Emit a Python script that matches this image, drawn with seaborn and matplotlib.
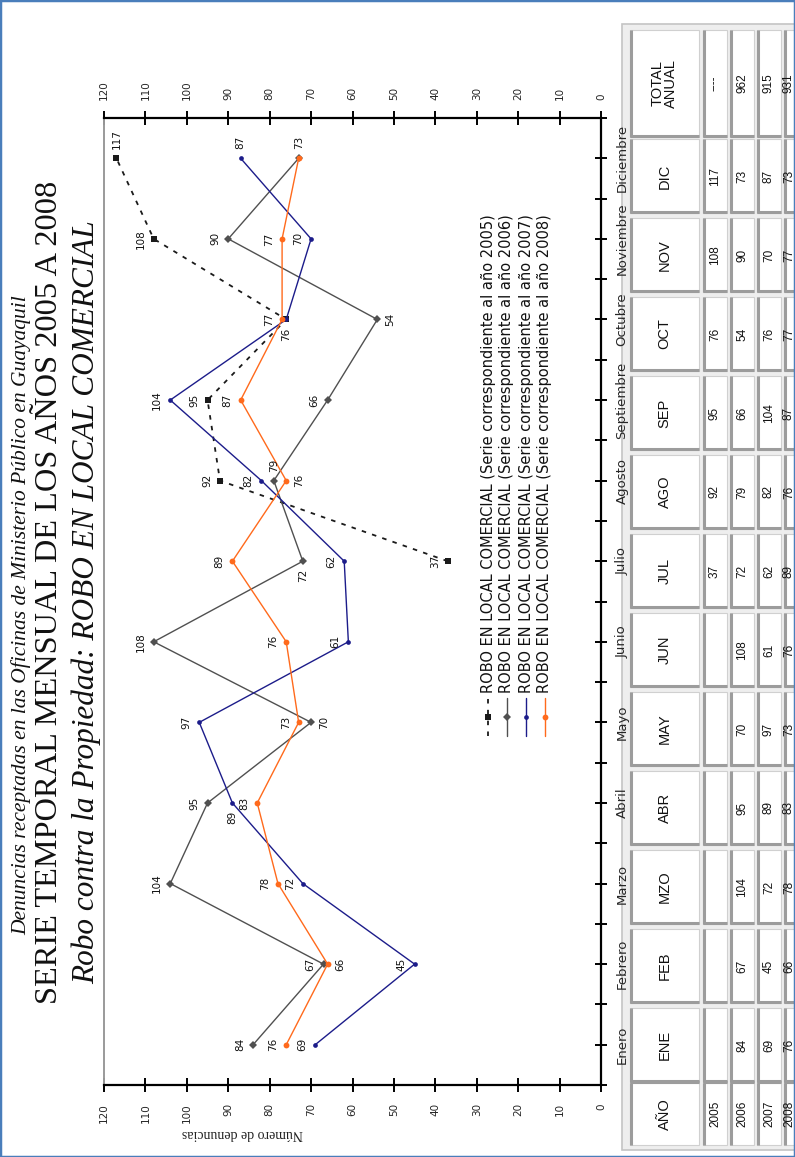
import numpy as np
import pandas as pd
import matplotlib
matplotlib.use("Agg")
import matplotlib.pyplot as plt
import seaborn as sns
from matplotlib.patches import Rectangle
from matplotlib.lines import Line2D

# ---------------- data ----------------
meses = ["Enero", "Febrero", "Marzo", "Abril", "Mayo", "Junio", "Julio",
         "Agosto", "Septiembre", "Octubre", "Noviembre", "Diciembre"]
meses_abrev = ["ENE", "FEB", "MZO", "ABR", "MAY", "JUN", "JUL", "AGO",
               "SEP", "OCT", "NOV", "DIC"]
anios = ["2005", "2006", "2007", "2008"]
serie_2005 = [np.nan] * 6 + [37, 92, 95, 76, 108, 117]
serie_2006 = [84, 67, 104, 95, 70, 108, 72, 79, 66, 54, 90, 73]
serie_2007 = [69, 45, 72, 89, 97, 61, 62, 82, 104, 76, 70, 87]
serie_2008 = [76, 66, 78, 83, 73, 76, 89, 76, 87, 77, 77, 73]
totales = ["----", "962", "915", "931"]
valor_ticks = list(range(0, 121, 10))

# where each value label sits relative to its point (L/R/U/D on the page)
pos_2005 = [None] * 6 + ["L", "L", "L", None, "L", "U"]
pos_2006 = ["L", "L", "L", "L", "R", "L", "D", "U", "L", "R", "L", None]
pos_2007 = ["L", "L", "L", "D", "L", "L", "L", "L", "L", "D", "L", "U"]
pos_2008 = ["L", "R", "L", "L", "L", "L", "L", "R", "L", "L", "L", "U"]

W, H = 795, 1157

sns.set_theme(style="white")
plt.rcParams["font.family"] = ["DejaVu Sans"]

fig = plt.figure(figsize=(W / 100, H / 100), dpi=100)
fig.patch.set_facecolor("white")


def fx(px):
    return px / W


def fy(py):
    return 1 - py / H


df = pd.DataFrame({"mes": np.arange(12), "2005": serie_2005, "2006": serie_2006,
                   "2007": serie_2007, "2008": serie_2008})

estilos = {
    "2005": dict(color="#1a1a1a", marker="s", markersize=5, lw=1.3, ls=(0, (2.5, 3.5))),
    "2006": dict(color="#505050", marker="D", markersize=3.6, lw=1.0, ls="-"),
    "2007": dict(color="#1c1c8a", marker="o", markersize=3.4, lw=1.0, ls="-"),
    "2008": dict(color="#ff6a1c", marker="o", markersize=4.2, lw=1.0, ls="-"),
}
posiciones = {"2005": pos_2005, "2006": pos_2006, "2007": pos_2007, "2008": pos_2008}

# ---------------- main chart (page turned on its side) ----------------
ax = fig.add_axes([fx(104), fy(1085), fx(601) - fx(104), fy(118) - fy(1085)])
ax.set_facecolor("white")

for anio in anios:
    st = estilos[anio]
    d = df[["mes", anio]].dropna()
    sns.lineplot(data=d, x=anio, y="mes", orient="y", ax=ax, color=st["color"],
                 linewidth=st["lw"], linestyle=st["ls"], marker=st["marker"],
                 markersize=st["markersize"], markeredgewidth=0, errorbar=None,
                 legend=False)

desp = {"L": ((-8, 0), "right", "center"), "R": ((8, 0), "left", "center"),
        "U": ((0, 9), "center", "bottom"), "D": ((0, -8), "center", "top")}
for anio in anios:
    for i, (v, p) in enumerate(zip(df[anio], posiciones[anio])):
        if p is None or np.isnan(v):
            continue
        off, ha, va = desp[p]
        ax.annotate(f"{int(v)}", (v, i), xytext=off, textcoords="offset pixels",
                    rotation=90, ha=ha, va=va, fontsize=7.5, color="#111111")

ax.set_xlim(120, 0)
ax.set_ylim(-0.5, 11.5)
ax.set_xlabel("")
ax.set_ylabel("")
ax.set_xticks(valor_ticks)
ax.set_xticklabels([str(t) for t in valor_ticks])
ax.tick_params(axis="x", which="both", top=True, bottom=True, labeltop=True,
               labelbottom=True, direction="inout", length=10, width=1.4,
               labelsize=7.5, labelrotation=90, pad=8, color="black")

ax.yaxis.tick_right()
ax.set_yticks(np.arange(12))
ax.set_yticklabels(meses)
ax.set_yticks(np.arange(-0.5, 12, 1), minor=True)
ax.tick_params(axis="y", which="both", right=True, left=False, direction="inout",
               length=9, width=1.4, color="black")
ax.tick_params(axis="y", which="major", labelsize=9.5, pad=6)
for t in ax.get_yticklabels():
    t.set_rotation(90)
    t.set_va("center")
    t.set_ha("left")

for s in ["top", "bottom", "right"]:
    ax.spines[s].set_color("black")
    ax.spines[s].set_linewidth(1.6)
ax.spines["left"].set_color("#9a9a9a")
ax.spines["left"].set_linewidth(1.4)
ax.grid(False)

# legend drawn along the page direction
ley_x = {"2005": 488, "2006": 507, "2007": 526, "2008": 545}
for anio in anios:
    st = estilos[anio]
    x = ley_x[anio]
    fig.add_artist(Line2D([fx(x), fx(x)], [fy(736), fy(698)], color=st["color"],
                          lw=st["lw"], ls=st["ls"]))
    fig.add_artist(Line2D([fx(x)], [fy(717)], color=st["color"], marker=st["marker"],
                          markersize=st["markersize"], markeredgewidth=0, ls="none"))
    fig.text(fx(x), fy(693),
             f"ROBO EN LOCAL COMERCIAL (Serie correspondiente al año {anio})",
             rotation=90, ha="center", va="bottom", fontsize=10.5, color="#111111")

# axis title of the value scale
fig.text(fx(242), fy(1133), "Número de denuncias", rotation=180, ha="center",
         va="center", fontsize=10, family="Liberation Serif", color="#222222")

# ---------------- titles ----------------
fig.text(fx(21), fy(615),
         "Denuncias receptadas en las Oficinas de Ministerio Público en Guayaquil",
         rotation=90, ha="center", va="center", fontsize=15.5, style="italic",
         family="Liberation Serif", color="#111111")
fig.text(fx(50), fy(592), "SERIE TEMPORAL MENSUAL DE LOS AÑOS 2005 A 2008",
         rotation=90, ha="center", va="center", fontsize=23.3,
         family="Liberation Serif", color="#111111")
fig.text(fx(86), fy(602), "Robo contra la Propiedad: ROBO EN LOCAL COMERCIAL",
         rotation=90, ha="center", va="center", fontsize=22.5, style="italic",
         family="Liberation Serif", color="#111111")

# ---------------- data table ----------------
axt = fig.add_axes([0, 0, 1, 1], zorder=-1)
axt.set_xlim(0, W)
axt.set_ylim(H, 0)
axt.axis("off")

axt.add_patch(Rectangle((622, 24), 200, 1126, facecolor="#eeeeee",
                        edgecolor="#c4c4c4", lw=1.2))

fila_x = [(630, 699), (703, 727), (730, 754), (757, 781), (784, 808)]
texto_x = [664.5, 715, 742, 769, 789]
col_y = ([(1083, 1145)] +
         [(1045 - m * 79 + 37, 1045 - m * 79 - 37) for m in range(12)] +
         [(137, 30)])
encabezado = ["AÑO"] + meses_abrev + ["TOTAL\nANUAL"]
valores = {
    "2005": [""] * 6 + [f"{int(v)}" for v in serie_2005[6:]],
    "2006": [str(v) for v in serie_2006],
    "2007": [str(v) for v in serie_2007],
    "2008": [str(v) for v in serie_2008],
}


def celda(x0, x1, y0, y1, tx, texto, size, weight="normal"):
    axt.add_patch(Rectangle((x0, y1), x1 - x0, y0 - y1, facecolor="white",
                            edgecolor="#d0d0d0", lw=0.8))
    axt.plot([x0 + 1, x0 + 1], [y0, y1], color="#9c9c9c", lw=2.2,
             solid_capstyle="butt")
    axt.plot([x0, x1], [y0 - 1, y0 - 1], color="#9c9c9c", lw=2.2,
             solid_capstyle="butt")
    if texto:
        axt.text(tx, (y0 + y1) / 2, texto, rotation=90, ha="center",
                 va="center", fontsize=size, weight=weight, family="Liberation Sans",
                 color="#111111", linespacing=0.95)


for j, (y0, y1) in enumerate(col_y):
    x0, x1 = fila_x[0]
    celda(x0, x1, y0, y1, texto_x[0], encabezado[j], 10.5)
    for k, anio in enumerate(anios):
        x0, x1 = fila_x[k + 1]
        if j == 0:
            txt = anio
        elif j == 13:
            txt = totales[k]
        else:
            txt = valores[anio][j - 1]
        celda(x0, x1, y0, y1, texto_x[k + 1], txt, 8.5)

# page frame
fig.add_artist(Rectangle((0, 0), 1, 1, transform=fig.transFigure, fill=False,
                         edgecolor="#4a7ebb", lw=2.5))

fig.savefig("out.png", dpi=100)
